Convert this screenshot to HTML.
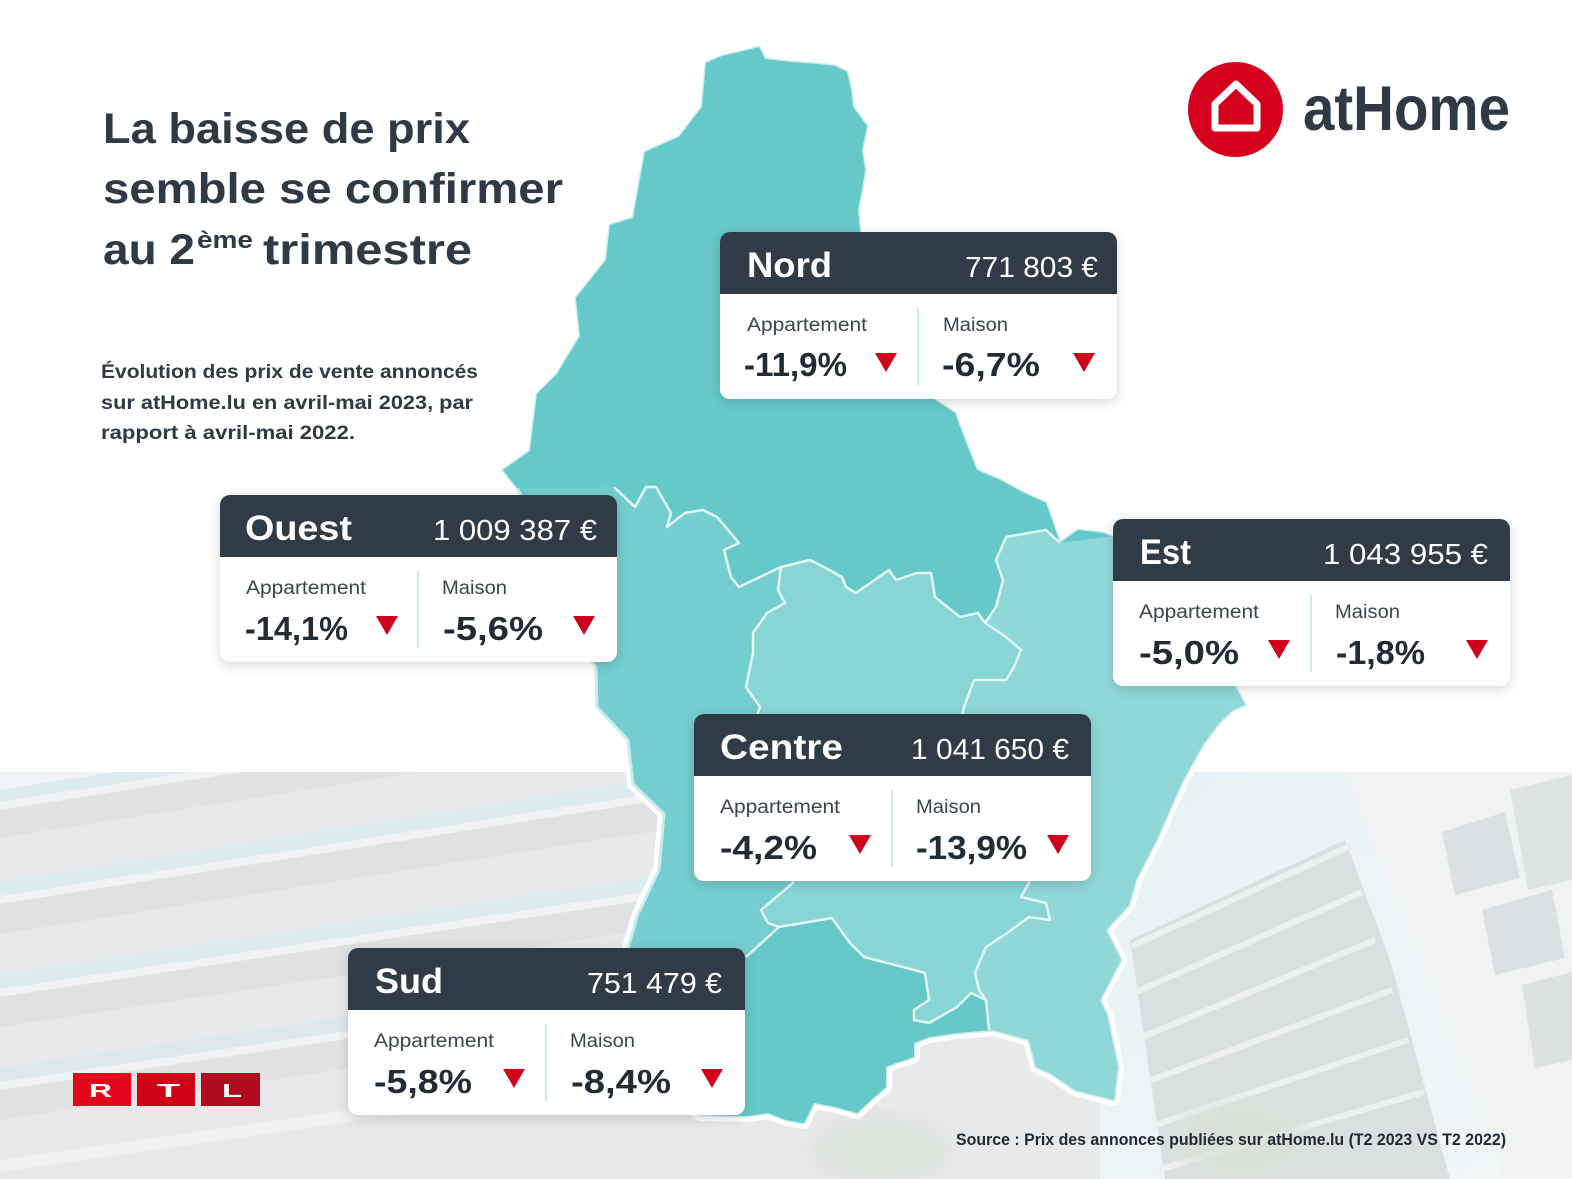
<!DOCTYPE html>
<html><head><meta charset="utf-8"><style>
html,body{margin:0;padding:0;background:#fff;}
svg{display:block;}
text{font-family:"Liberation Sans",sans-serif;}
</style></head><body>
<svg width="1572" height="1179" viewBox="0 0 1572 1179" xmlns="http://www.w3.org/2000/svg">
<defs>
<filter id="sh" x="-10%" y="-15%" width="120%" height="140%"><feDropShadow dx="0" dy="3" stdDeviation="6" flood-color="#000" flood-opacity="0.16"/></filter>
<filter id="blur"><feGaussianBlur stdDeviation="6"/></filter>
<clipPath id="photo"><rect x="0" y="772" width="1572" height="407"/></clipPath>
<linearGradient id="sky" x1="0" y1="0" x2="1" y2="1"><stop offset="0" stop-color="#e6f2f6"/><stop offset="1" stop-color="#f2f6f7"/></linearGradient>
<path id="outline" d="M706,63 L722,56 L740,52 L759,47 L765,59 L790,62 L817,64 L835,66 L847,72 L851,90 L853,107 L867,126 L862,150 L865,170 L863,183 L858,210 L860,232 L880,300 L910,360 L935,400 L955,413 L965,440 L977,470 L1000,480 L1024,493 L1046,503 L1053,523 L1060,543 L1078,530 L1103,533 L1120,540 L1150,570 L1190,620 L1225,670 L1240,695 L1245,705 L1233,710 L1220,722 L1204,743 L1182,782 L1157,839 L1136,880 L1129,905 L1106,930 L1121,960 L1100,1000 L1107,1015 L1118,1067 L1114,1100 L1075,1090 L1050,1073 L1036,1067 L1029,1040 L993,1030 L957,1033 L929,1037 L914,1043 L914,1057 L896,1063 L886,1067 L886,1087 L871,1100 L857,1113 L836,1107 L814,1103 L804,1123 L786,1120 L768,1113 L748,1116 L700,1115 L640,1060 L620,1000 L628,948 L638,914 L659,870 L664,814 L633,784 L628,740 L597,707 L596,667 L575,640 L560,600 L540,540 L518,489 L503,470 L530,451 L537,394 L557,374 L580,336 L576,298 L606,260 L610,225 L633,218 L645,152 L679,137 L702,107 Z"/>
<clipPath id="mapclip"><use href="#outline"/></clipPath>
</defs>

<rect width="1572" height="1179" fill="#fff"/>

<!-- background photo -->
<g clip-path="url(#photo)">
  <rect x="0" y="772" width="1572" height="407" fill="#e7e9ea"/>
  <polygon points="0,772 260,772 0,830" fill="#eff4f6"/>
  <g>
    <polygon points="0,790 700,680 700,692 0,802" fill="#dcebee"/>
    <polygon points="0,802 700,692 700,700 0,810" fill="#f1f2f3"/>
    <polygon points="0,810 700,700 700,728 0,838" fill="#e0e2e3"/>
    <polygon points="0,882 700,772 700,786 0,896" fill="#dcebee"/>
    <polygon points="0,896 700,786 700,794 0,904" fill="#f1f2f3"/>
    <polygon points="0,904 700,794 700,824 0,934" fill="#dfe1e2"/>
    <polygon points="0,975 700,870 700,884 0,989" fill="#dcebee"/>
    <polygon points="0,989 700,884 700,892 0,997" fill="#f1f2f3"/>
    <polygon points="0,997 700,892 700,922 0,1027" fill="#dfe1e2"/>
    <polygon points="0,1068 700,965 700,979 0,1082" fill="#dde9ec"/>
    <polygon points="0,1082 700,979 700,987 0,1090" fill="#f1f2f3"/>
    <polygon points="0,1090 700,987 700,1017 0,1120" fill="#e0e2e3"/>
    <polygon points="0,1160 700,1060 700,1072 0,1172" fill="#eff1f2"/>
  </g>
  <rect x="1100" y="772" width="472" height="407" fill="url(#sky)"/>
  <polygon points="1345,772 1572,772 1572,1179 1505,1179" fill="#f1f2f2"/>
  <polygon points="1442,832 1505,812 1520,878 1455,895" fill="#dce0e2"/>
  <polygon points="1482,910 1552,890 1565,958 1495,975" fill="#dce0e2"/>
  <polygon points="1522,985 1572,972 1572,1060 1535,1068" fill="#dde1e2"/>
  <polygon points="1510,790 1572,775 1572,880 1528,890" fill="#e0e3e4"/>
  <polygon points="1130,940 1345,840 1390,960 1450,1179 1165,1179" fill="#dcdfe0"/>
  <line x1="1132" y1="946" x2="1350" y2="846" stroke="#eef0f0" stroke-width="6"/>
  <line x1="1136" y1="992" x2="1362" y2="892" stroke="#eef0f0" stroke-width="6"/>
  <line x1="1140" y1="1038" x2="1375" y2="940" stroke="#eef0f0" stroke-width="6"/>
  <line x1="1146" y1="1082" x2="1392" y2="990" stroke="#eef0f0" stroke-width="6"/>
  <line x1="1152" y1="1126" x2="1408" y2="1040" stroke="#eef0f0" stroke-width="6"/>
  <line x1="1158" y1="1170" x2="1424" y2="1092" stroke="#eef0f0" stroke-width="6"/>
  <ellipse cx="1240" cy="1140" rx="70" ry="40" fill="#dbe0d8" opacity="0.7" filter="url(#blur)"/>
  <ellipse cx="880" cy="1150" rx="70" ry="35" fill="#dde1da" opacity="0.7" filter="url(#blur)"/>
</g>

<!-- map -->
<use href="#outline" fill="none" stroke="#ffffff" stroke-width="12" stroke-linejoin="round"/>
<use href="#outline" fill="#74cdce" stroke="#c9ecec" stroke-width="3" stroke-linejoin="round"/>
<g clip-path="url(#mapclip)">
  <path fill="#66c9c9" d="M400,0 L1300,0 L1300,543 L1060,543 L1046,530 L1006,537 L996,560 L1003,580 L996,607 L985,623 L978,613 L960,617 L935,597 L931,573 L917,573 L896,580 L889,570 L856,593 L846,587 L842,577 L824,567 L810,560 L781,567 L760,577 L739,587 L731,577 L724,550 L739,543 L728,530 L717,517 L703,510 L685,513 L667,527 L671,513 L656,487 L646,487 L635,507 L614,487 L400,489 Z"/>
  <path fill="#88d5d5" d="M781,567 L810,560 L824,567 L842,577 L846,587 L856,593 L889,570 L896,580 L917,573 L931,573 L935,597 L960,617 L978,613 L985,623 L1006,637 L1021,650 L1014,667 L1006,680 L974,680 L964,707 L970,800 L1029,883 L1021,897 L1046,903 L1050,920 L1029,917 L1007,933 L986,947 L979,963 L975,973 L979,990 L986,1000 L971,993 L957,1007 L929,1023 L914,1020 L914,1010 L929,1000 L925,973 L907,968 L864,957 L850,943 L832,918 L779,927 L768,923 L761,910 L793,883 L770,800 L760,707 L746,687 L753,653 L753,633 L767,613 L785,603 L778,590 Z"/>
  <path fill="#90d7d7" d="M1060,543 L1046,530 L1006,537 L996,560 L1003,580 L996,607 L985,623 L1006,637 L1021,650 L1014,667 L1006,680 L974,680 L964,707 L970,800 L1029,883 L1021,897 L1046,903 L1050,920 L1029,917 L1007,933 L986,947 L979,963 L975,973 L979,990 L986,1000 L989,1030 L1000,1200 L1400,1200 L1400,500 Z"/>
  <path fill="#66c8c8" d="M746,957 L768,937 L779,927 L832,918 L850,943 L864,957 L907,968 L925,973 L929,1000 L914,1010 L914,1020 L929,1023 L957,1007 L971,993 L986,1000 L989,1030 L1000,1200 L500,1200 L500,957 Z"/>
  <g fill="none" stroke="#e4f6f6" stroke-width="2.5" stroke-linejoin="round">
    <polyline points="614,487 635,507 646,487 656,487 671,513 667,527 685,513 703,510 717,517 728,530 739,543 724,550 731,577 739,587 760,577 781,567 810,560 824,567 842,577 846,587 856,593 889,570 896,580 917,573 931,573 935,597 960,617 978,613 985,623"/>
    <polyline points="985,623 996,607 1003,580 996,560 1006,537 1046,530 1060,543"/>
    <polyline points="985,623 1006,637 1021,650 1014,667 1006,680 974,680 964,707 962,716"/>
    <polyline points="781,567 778,590 785,603 767,613 753,633 753,653 746,687 760,707 757,716"/>
    <polyline points="1029,878 1029,883 1021,897 1046,903 1050,920 1029,917 1007,933 986,947 979,963 975,973 979,990 986,1000 989,1030"/>
    <polyline points="793,878 793,883 761,910 768,923 779,927 832,918 850,943 864,957 907,968 925,973 929,1000 914,1010 914,1020 929,1023 957,1007 971,993 986,1000"/>
    <polyline points="779,927 768,937 746,957"/>
  </g>
</g>

<!-- title -->
<g fill="#2f3a45" font-weight="bold">
  <text x="103" y="143" font-size="43" textLength="367" lengthAdjust="spacingAndGlyphs">La baisse de prix</text>
  <text x="103" y="203" font-size="43" textLength="460" lengthAdjust="spacingAndGlyphs">semble se confirmer</text>
  <text x="103" y="264" font-size="43" textLength="92" lengthAdjust="spacingAndGlyphs">au 2</text>
  <text x="197" y="248" font-size="24" textLength="56" lengthAdjust="spacingAndGlyphs">ème</text>
  <text x="263" y="264" font-size="43" textLength="209" lengthAdjust="spacingAndGlyphs">trimestre</text>
</g>
<g fill="#2f3a45" font-weight="bold" font-size="19.5">
  <text x="101" y="378" textLength="377" lengthAdjust="spacingAndGlyphs">Évolution des prix de vente annoncés</text>
  <text x="101" y="409" textLength="372" lengthAdjust="spacingAndGlyphs">sur atHome.lu en avril-mai 2023, par</text>
  <text x="101" y="439" textLength="254" lengthAdjust="spacingAndGlyphs">rapport à avril-mai 2022.</text>
</g>

<!-- atHome logo -->
<circle cx="1235.5" cy="109.5" r="47.5" fill="#d5001c"/>
<path d="M1236,84 L1215,104 L1215,128 L1257,128 L1257,104 Z" fill="none" stroke="#fff" stroke-width="7" stroke-linejoin="round"/>
<text x="1303" y="130" font-size="63" font-weight="bold" fill="#2f3a45" textLength="207" lengthAdjust="spacingAndGlyphs">atHome</text>

<!-- cards -->
<g filter="url(#sh)">
  <rect x="720" y="232" width="397" height="167" rx="10" fill="#fff"/>
  <rect x="220" y="495" width="397" height="167" rx="10" fill="#fff"/>
  <rect x="1113" y="519" width="397" height="167" rx="10" fill="#fff"/>
  <rect x="694" y="714" width="397" height="167" rx="10" fill="#fff"/>
  <rect x="348" y="948" width="397" height="167" rx="10" fill="#fff"/>
</g>

<g transform="translate(720,232)">
  <path d="M0,10 A10,10 0 0 1 10,0 H387 A10,10 0 0 1 397,10 V62 H0 Z" fill="#2f3b46"/>
  <text x="27" y="45" font-size="35" font-weight="bold" fill="#fff" textLength="85" lengthAdjust="spacingAndGlyphs">Nord</text>
  <text x="245" y="45" font-size="29" fill="#fff" textLength="133" lengthAdjust="spacingAndGlyphs">771 803 €</text>
  <text x="27" y="99" font-size="19" fill="#3a4550" textLength="120" lengthAdjust="spacingAndGlyphs">Appartement</text>
  <text x="223" y="99" font-size="19" fill="#3a4550" textLength="65" lengthAdjust="spacingAndGlyphs">Maison</text>
  <line x1="198" y1="76" x2="198" y2="153" stroke="#bfe3e3" stroke-width="1.5"/>
  <text x="24" y="144" font-size="33" font-weight="bold" fill="#222c36" textLength="103" lengthAdjust="spacingAndGlyphs">-11,9%</text>
  <text x="222" y="144" font-size="33" font-weight="bold" fill="#222c36" textLength="98" lengthAdjust="spacingAndGlyphs">-6,7%</text>
  <path d="M155,121 L177,121 L166,140 Z" fill="#d0021b"/>
  <path d="M353,121 L375,121 L364,140 Z" fill="#d0021b"/>
</g>
<g transform="translate(220,495)">
  <path d="M0,10 A10,10 0 0 1 10,0 H387 A10,10 0 0 1 397,10 V62 H0 Z" fill="#2f3b46"/>
  <text x="25" y="45" font-size="35" font-weight="bold" fill="#fff" textLength="107" lengthAdjust="spacingAndGlyphs">Ouest</text>
  <text x="213" y="45" font-size="29" fill="#fff" textLength="164" lengthAdjust="spacingAndGlyphs">1 009 387 €</text>
  <text x="26" y="99" font-size="19" fill="#3a4550" textLength="120" lengthAdjust="spacingAndGlyphs">Appartement</text>
  <text x="222" y="99" font-size="19" fill="#3a4550" textLength="65" lengthAdjust="spacingAndGlyphs">Maison</text>
  <line x1="198" y1="76" x2="198" y2="153" stroke="#bfe3e3" stroke-width="1.5"/>
  <text x="25" y="145" font-size="33" font-weight="bold" fill="#222c36" textLength="103" lengthAdjust="spacingAndGlyphs">-14,1%</text>
  <text x="223" y="145" font-size="33" font-weight="bold" fill="#222c36" textLength="100" lengthAdjust="spacingAndGlyphs">-5,6%</text>
  <path d="M156,121 L178,121 L167,140 Z" fill="#d0021b"/>
  <path d="M353,121 L375,121 L364,140 Z" fill="#d0021b"/>
</g>
<g transform="translate(1113,519)">
  <path d="M0,10 A10,10 0 0 1 10,0 H387 A10,10 0 0 1 397,10 V62 H0 Z" fill="#2f3b46"/>
  <text x="27" y="45" font-size="35" font-weight="bold" fill="#fff" textLength="51" lengthAdjust="spacingAndGlyphs">Est</text>
  <text x="210" y="45" font-size="29" fill="#fff" textLength="165" lengthAdjust="spacingAndGlyphs">1 043 955 €</text>
  <text x="26" y="99" font-size="19" fill="#3a4550" textLength="120" lengthAdjust="spacingAndGlyphs">Appartement</text>
  <text x="222" y="99" font-size="19" fill="#3a4550" textLength="65" lengthAdjust="spacingAndGlyphs">Maison</text>
  <line x1="198" y1="76" x2="198" y2="153" stroke="#bfe3e3" stroke-width="1.5"/>
  <text x="26" y="145" font-size="33" font-weight="bold" fill="#222c36" textLength="100" lengthAdjust="spacingAndGlyphs">-5,0%</text>
  <text x="223" y="145" font-size="33" font-weight="bold" fill="#222c36" textLength="89" lengthAdjust="spacingAndGlyphs">-1,8%</text>
  <path d="M155,121 L177,121 L166,140 Z" fill="#d0021b"/>
  <path d="M353,121 L375,121 L364,140 Z" fill="#d0021b"/>
</g>
<g transform="translate(694,714)">
  <path d="M0,10 A10,10 0 0 1 10,0 H387 A10,10 0 0 1 397,10 V62 H0 Z" fill="#2f3b46"/>
  <text x="26" y="45" font-size="35" font-weight="bold" fill="#fff" textLength="123" lengthAdjust="spacingAndGlyphs">Centre</text>
  <text x="217" y="45" font-size="29" fill="#fff" textLength="158" lengthAdjust="spacingAndGlyphs">1 041 650 €</text>
  <text x="26" y="99" font-size="19" fill="#3a4550" textLength="120" lengthAdjust="spacingAndGlyphs">Appartement</text>
  <text x="222" y="99" font-size="19" fill="#3a4550" textLength="65" lengthAdjust="spacingAndGlyphs">Maison</text>
  <line x1="198" y1="76" x2="198" y2="153" stroke="#bfe3e3" stroke-width="1.5"/>
  <text x="26" y="145" font-size="33" font-weight="bold" fill="#222c36" textLength="97" lengthAdjust="spacingAndGlyphs">-4,2%</text>
  <text x="222" y="145" font-size="33" font-weight="bold" fill="#222c36" textLength="111" lengthAdjust="spacingAndGlyphs">-13,9%</text>
  <path d="M155,121 L177,121 L166,140 Z" fill="#d0021b"/>
  <path d="M353,121 L375,121 L364,140 Z" fill="#d0021b"/>
</g>
<g transform="translate(348,948)">
  <path d="M0,10 A10,10 0 0 1 10,0 H387 A10,10 0 0 1 397,10 V62 H0 Z" fill="#2f3b46"/>
  <text x="27" y="45" font-size="35" font-weight="bold" fill="#fff" textLength="68" lengthAdjust="spacingAndGlyphs">Sud</text>
  <text x="239" y="45" font-size="29" fill="#fff" textLength="135" lengthAdjust="spacingAndGlyphs">751 479 €</text>
  <text x="26" y="99" font-size="19" fill="#3a4550" textLength="120" lengthAdjust="spacingAndGlyphs">Appartement</text>
  <text x="222" y="99" font-size="19" fill="#3a4550" textLength="65" lengthAdjust="spacingAndGlyphs">Maison</text>
  <line x1="198" y1="76" x2="198" y2="153" stroke="#bfe3e3" stroke-width="1.5"/>
  <text x="26" y="145" font-size="33" font-weight="bold" fill="#222c36" textLength="98" lengthAdjust="spacingAndGlyphs">-5,8%</text>
  <text x="223" y="145" font-size="33" font-weight="bold" fill="#222c36" textLength="100" lengthAdjust="spacingAndGlyphs">-8,4%</text>
  <path d="M155,121 L177,121 L166,140 Z" fill="#d0021b"/>
  <path d="M353,121 L375,121 L364,140 Z" fill="#d0021b"/>
</g>

<!-- RTL logo -->
<rect x="73" y="1073" width="58" height="33" fill="#e3061a"/>
<rect x="137" y="1073" width="58" height="33" fill="#cf0217"/>
<rect x="201" y="1073" width="59" height="33" fill="#b10a1e"/>
<g fill="#fff" font-weight="bold" font-size="18">
  <text x="89" y="1097" textLength="23" lengthAdjust="spacingAndGlyphs">R</text>
  <text x="157" y="1097" textLength="23" lengthAdjust="spacingAndGlyphs">T</text>
  <text x="222" y="1097" textLength="20" lengthAdjust="spacingAndGlyphs">L</text>
</g>

<text x="956" y="1145" font-size="17" font-weight="bold" fill="#1f2a35" textLength="550" lengthAdjust="spacingAndGlyphs">Source : Prix des annonces publiées sur atHome.lu (T2 2023 VS T2 2022)</text>
</svg>
</body></html>
